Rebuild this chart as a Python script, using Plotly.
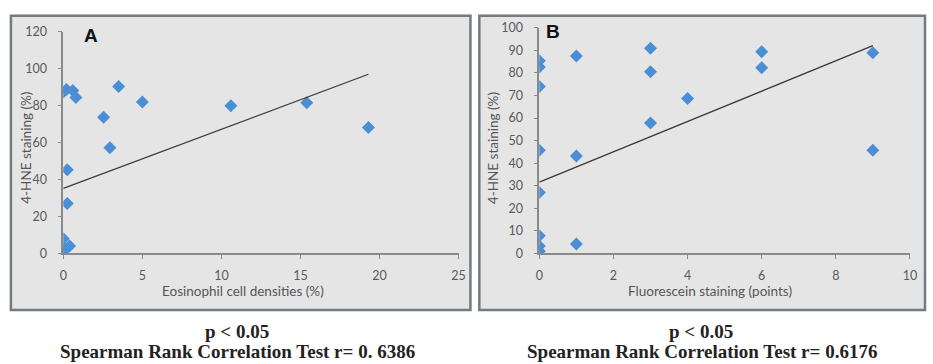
import plotly.graph_objects as go

W, H = 933, 364

# ---------------- data ----------------
eos_x = [0.0, 0.2, 0.6, 0.8, 3.5, 5.0, 2.55, 2.95, 10.6, 15.4, 19.3, 0.25, 0.25, 0.0, 0.4, 0.0, 0.1]
eos_y = [87.5, 88.8, 88.3, 84.5, 90.5, 82.0, 73.8, 57.3, 80.0, 81.7, 68.2, 45.4, 27.0, 8.0, 4.0, 1.0, 2.5]
trend_a_x = [0.0, 19.3]
trend_a_y = [35.2, 97.1]

flu_x = [0, 0, 0, 0, 0, 0, 0, 0, 1, 1, 1, 3, 3, 3, 4, 6, 6, 9, 9]
flu_y = [85.4, 82.6, 74.0, 45.8, 27.0, 7.9, 3.3, 1.0, 87.5, 43.2, 4.2, 91.0, 80.5, 57.8, 68.7, 89.4, 82.3, 89.0, 45.8]
trend_b_x = [0.0, 9.0]
trend_b_y = [31.6, 92.1]

xticks_a = [0, 5, 10, 15, 20, 25]
yticks_a = [0, 20, 40, 60, 80, 100, 120]
xticks_b = [0, 2, 4, 6, 8, 10]
yticks_b = [0, 10, 20, 30, 40, 50, 60, 70, 80, 90, 100]

# ---------------- helpers ----------------
def px(x):
    return x / W

def py(y):
    return (H - y) / H

marker_color = "#4a8fd6"
axis_color = "#8a8a8a"
tick_font = dict(family="Lato, Open Sans, sans-serif", size=12.5, color="#5a5a5a")

fig = go.Figure()

fig.add_trace(go.Scatter(x=eos_x, y=eos_y, mode="markers", xaxis="x", yaxis="y",
                         marker=dict(symbol="diamond", size=10, color=marker_color,
                                     line=dict(width=0)), showlegend=False))
fig.add_trace(go.Scatter(x=trend_a_x, y=trend_a_y, mode="lines", xaxis="x", yaxis="y",
                         line=dict(color="#3a3a3a", width=1.3), showlegend=False))
fig.add_trace(go.Scatter(x=flu_x, y=flu_y, mode="markers", xaxis="x2", yaxis="y2",
                         marker=dict(symbol="diamond", size=10, color=marker_color,
                                     line=dict(width=0)), showlegend=False))
fig.add_trace(go.Scatter(x=trend_b_x, y=trend_b_y, mode="lines", xaxis="x2", yaxis="y2",
                         line=dict(color="#3a3a3a", width=1.3), showlegend=False))

common_axis = dict(showgrid=False, zeroline=False, showline=True, linecolor=axis_color,
                   linewidth=1.5, ticks="outside", ticklen=4, tickcolor=axis_color,
                   tickwidth=1.2, tickfont=tick_font, fixedrange=True)

fig.update_layout(
    width=W, height=H,
    margin=dict(l=0, r=0, t=0, b=0),
    paper_bgcolor="white",
    plot_bgcolor="rgba(0,0,0,0)",
    xaxis=dict(domain=[px(60), px(460)], range=[0, 25], tickvals=xticks_a,
               anchor="y", ticklabelstandoff=6, **common_axis),
    yaxis=dict(domain=[py(256), py(25)], range=[0, 120], tickvals=yticks_a,
               anchor="x", ticklabelstandoff=8, **common_axis),
    xaxis2=dict(domain=[px(541.7), px(916.7)], range=[0, 10], tickvals=xticks_b,
                anchor="y2", ticklabelstandoff=6, **common_axis),
    yaxis2=dict(domain=[py(256), py(20.7)], range=[0, 100], tickvals=yticks_b,
                anchor="x2", ticklabelstandoff=8, **common_axis),
)

# panel boxes
box_fill = "#e5e5e5"
box_line = "#737b82"
fig.add_shape(type="rect", xref="paper", yref="paper", x0=px(7), x1=px(472),
              y0=py(315), y1=py(8), fillcolor=box_fill, line=dict(color=box_line, width=2.5),
              layer="below")
fig.add_shape(type="rect", xref="paper", yref="paper", x0=px(481), x1=px(932),
              y0=py(315), y1=py(8), fillcolor=box_fill, line=dict(color=box_line, width=2.5),
              layer="below")

title_font = dict(family="Lato, Open Sans, sans-serif", size=13.5, color="#555555")
ann = [
    dict(text="<b>A</b>", x=px(88), y=py(29), font=dict(family="Liberation Sans, Arial", size=19, color="#111")),
    dict(text="<b>B</b>", x=px(556), y=py(24), font=dict(family="Liberation Sans, Arial", size=19, color="#111")),
    dict(text="Eosinophil cell densities (%)", x=px(242), y=py(295), font=title_font),
    dict(text="Fluorescein staining (points)", x=px(714), y=py(295), font=title_font),
    dict(text="4-HNE staining (%)", x=px(22), y=py(146), textangle=-90, font=title_font),
    dict(text="4-HNE staining (%)", x=px(495), y=py(146), textangle=-90, font=title_font),
]
serif = dict(family="Liberation Serif, Times New Roman, serif", size=19, color="#222")
ann += [
    dict(text="<b>p < 0.05</b>", x=px(236), y=py(333), font=serif),
    dict(text="<b>Spearman Rank Correlation Test r= 0. 6386</b>", x=px(236), y=py(354), font=serif),
    dict(text="<b>p < 0.05</b>", x=px(705), y=py(333), font=serif),
    dict(text="<b>Spearman Rank Correlation Test r= 0.6176</b>", x=px(706), y=py(354), font=serif),
]
for a in ann:
    a.update(xref="paper", yref="paper", showarrow=False, xanchor="center", yanchor="middle")
    fig.add_annotation(**a)
# nudge bottom texts a little lower (yshift in pixels)
for a in fig.layout.annotations[-4:]:
    a.yshift = -4

fig.write_html("out.html", config={"displayModeBar": False},
               post_script="document.body.style.margin='0';document.body.style.overflow='hidden';")
